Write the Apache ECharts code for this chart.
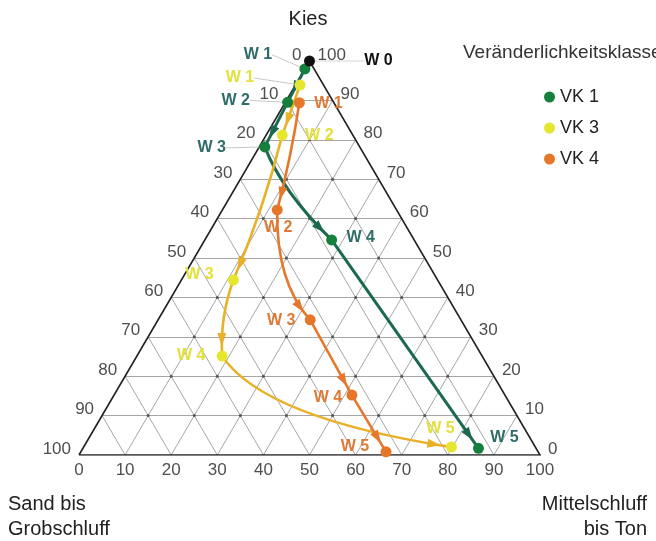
<!DOCTYPE html>
<html><head><meta charset="utf-8">
<script src="https://cdn.jsdelivr.net/npm/echarts@6/dist/echarts.min.js"></script>
<style>html,body{margin:0;padding:0;background:#fff}#c{width:656px;height:541px}</style>
</head><body><div id="c"></div>
<script>
// ---------- data ----------
const classNames = ['VK 1', 'VK 3', 'VK 4'];
const stepNames = ['W 1', 'W 2', 'W 3', 'W 4', 'W 5'];
const startName = 'W 0';
const startKies = 100;
const startFein = 0;
// Kies (%) and Mittelschluff bis Ton (%) for each step W1..W5 (Sand bis Grobschluff = rest)
const vk1Kies = [98.0, 89.5, 78.2, 54.6, 1.7];
const vk1Fein = [0.0, 0.5, 1.2, 27.5, 85.8];
const vk3Kies = [93.9, 81.2, 44.4, 25.1, 2.0];
const vk3Fein = [1.0, 3.5, 11.3, 18.5, 79.8];
const vk4Kies = [89.4, 62.2, 34.3, 15.2, 0.8];
const vk4Fein = [3.1, 11.9, 33.0, 51.6, 66.2];
const tickValues = [0, 10, 20, 30, 40, 50, 60, 70, 80, 90, 100];

// ---------- styles ----------
const FONT = '"Liberation Sans", Arial, sans-serif';
const dotColors = ['#15803b', '#e6e62e', '#e5772a'];
const lineColors = ['#1b6a4f', '#e8b128', '#e5782c'];
const labelColors = ['#2e6d68', '#e2e03a', '#de7a36'];
const lineWidths = [3, 2.6, 2.6];
// curve shape per segment: [position of control point along chord, perpendicular offset px]
const bends = [
  [[0.5, 0], [0.5, 0], [0.4, 12], [0.5, 0]],
  [[0.5, 0], [0.5, -6], [0.5, 8], [0.25, 42]],
  [[0.5, -3], [0.6, 22], [0.5, 0], [0.5, 0]]
];
// label offsets (px) from the point for each step
const labelOffsets = [
  [[-47, -14], [-52, -2], [-53, 1], [29, -2], [26, -11]],
  [[-60, -7], [37, 1], [-34, -5], [-31, -1], [-11, -19]],
  [[29, 1], [1, 18], [-29, 1], [-24, 2], [-31, -5]]
];
const leaderLines = [
  [true, true, true, false, false],
  [true, false, false, false, false],
  [false, false, false, false, false]
];

function tern(kies, fein) { return [fein + kies / 2, kies]; }

const kiesArr = [vk1Kies, vk3Kies, vk4Kies];
const feinArr = [vk1Fein, vk3Fein, vk4Fein];

// grid lines
const gridData = [];
tickValues.forEach(v => {
  if (v === 0 || v === 100) return;
  gridData.push({ coords: [tern(v, 0), tern(v, 100 - v)] });
  gridData.push({ coords: [tern(0, v), tern(100 - v, v)] });
  gridData.push({ coords: [tern(0, 100 - v), tern(100 - v, 0)] });
});
const nodeData = [];
tickValues.forEach(k => tickValues.forEach(f => {
  if (k > 0 && f > 0 && k + f < 100) nodeData.push(tern(k, f));
}));
const outline = [{ coords: [tern(0, 0), tern(0, 100), tern(100, 0), tern(0, 0)] }];

// segments for curves
const segData = [];
kiesArr.forEach((ks, ci) => {
  for (let i = 0; i < ks.length - 1; i++) {
    const a = tern(ks[i], feinArr[ci][i]);
    const b = tern(ks[i + 1], feinArr[ci][i + 1]);
    segData.push([a[0], a[1], b[0], b[1], ci, i]);
  }
});

function renderSeg(params, api) {
  const p0 = api.coord([api.value(0), api.value(1)]);
  const p2 = api.coord([api.value(2), api.value(3)]);
  const ci = api.value(4), si = api.value(5);
  const bend = bends[ci][si];
  const dx = p2[0] - p0[0], dy = p2[1] - p0[1];
  const L = Math.hypot(dx, dy);
  const nx = -dy / L, ny = dx / L;
  const c = [p0[0] + dx * bend[0] + nx * bend[1], p0[1] + dy * bend[0] + ny * bend[1]];
  const B = t => [
    (1 - t) * (1 - t) * p0[0] + 2 * (1 - t) * t * c[0] + t * t * p2[0],
    (1 - t) * (1 - t) * p0[1] + 2 * (1 - t) * t * c[1] + t * t * p2[1]
  ];
  const gap = 10;
  let t = 1;
  while (t > 0.3) {
    const q = B(t);
    if (Math.hypot(q[0] - p2[0], q[1] - p2[1]) >= gap) break;
    t -= 0.005;
  }
  const tip = B(t);
  let ux = 2 * (1 - t) * (c[0] - p0[0]) + 2 * t * (p2[0] - c[0]);
  let uy = 2 * (1 - t) * (c[1] - p0[1]) + 2 * t * (p2[1] - c[1]);
  const ul = Math.hypot(ux, uy); ux /= ul; uy /= ul;
  const len = 13, w = 4.5;
  const bx = tip[0] - ux * len, by = tip[1] - uy * len;
  const color = lineColors[ci];
  return {
    type: 'group',
    children: [
      { type: 'bezierCurve',
        shape: { x1: p0[0], y1: p0[1], x2: p2[0], y2: p2[1], cpx1: c[0], cpy1: c[1] },
        style: { stroke: color, lineWidth: lineWidths[ci], fill: null } },
      { type: 'polygon',
        shape: { points: [tip, [bx - uy * w, by + ux * w], [bx + uy * w, by - ux * w]] },
        style: { fill: color } }
    ]
  };
}

const series = [
  { type: 'lines', coordinateSystem: 'cartesian2d', silent: true, z: 1,
    lineStyle: { color: '#9c9c9c', width: 0.9, opacity: 1 }, data: gridData },
  { type: 'scatter', silent: true, z: 2, symbolSize: 3,
    itemStyle: { color: '#555', opacity: 1 }, data: nodeData },
  { type: 'lines', coordinateSystem: 'cartesian2d', polyline: true, silent: true, z: 3,
    lineStyle: { color: '#222', width: 1.6, opacity: 1 }, data: outline },
  { type: 'custom', z: 4, silent: true, renderItem: renderSeg, data: segData,
    encode: { x: [0, 2], y: [1, 3] } }
];

kiesArr.forEach((ks, ci) => {
  series.push({
    type: 'scatter', name: classNames[ci], z: 6, symbolSize: 11,
    itemStyle: { color: dotColors[ci], opacity: 1 },
    label: { show: true, position: 'inside', formatter: '{b}', color: labelColors[ci],
      fontFamily: FONT, fontSize: 16, fontWeight: 'bold' },
    labelLine: { show: false, lineStyle: { color: '#c8c8c8', width: 1 } },
    labelLayout: p => ({ dx: labelOffsets[ci][p.dataIndex][0], dy: labelOffsets[ci][p.dataIndex][1] }),
    data: ks.map((k, i) => ({
      name: stepNames[i], value: tern(k, feinArr[ci][i]),
      labelLine: { show: leaderLines[ci][i] }
    }))
  });
});

series.push({
  type: 'scatter', z: 7, symbolSize: 11, itemStyle: { color: '#111', opacity: 1 },
  label: { show: true, position: 'inside', formatter: '{b}', color: '#111',
    fontFamily: FONT, fontSize: 16, fontWeight: 'bold' },
  labelLine: { show: true, lineStyle: { color: '#d5d5d5', width: 1 } },
  labelLayout: { dx: 69, dy: 0 },
  data: [{ name: startName, value: tern(startKies, startFein) }]
});

// tick labels
const tickLabel = { show: true, color: '#222', fontFamily: FONT, fontSize: 17 };
series.push({
  type: 'scatter', silent: true, symbolSize: 0, z: 5,
  label: Object.assign({}, tickLabel, { position: 'right', distance: 8, offset: [0, -6], formatter: p => p.data.t }),
  data: tickValues.map(v => ({ value: tern(v, 100 - v), t: String(v) }))
});
series.push({
  type: 'scatter', silent: true, symbolSize: 0, z: 5,
  label: Object.assign({}, tickLabel, { position: 'left', distance: 8, offset: [0, -6], formatter: p => p.data.t }),
  data: tickValues.map(v => ({ value: tern(100 - v, 0), t: String(v) }))
});
series.push({
  type: 'scatter', silent: true, symbolSize: 0, z: 5,
  label: Object.assign({}, tickLabel, { position: 'bottom', distance: 7, formatter: p => p.data.t }),
  data: tickValues.map(v => ({ value: tern(0, v), t: String(v) }))
});

const option = {
  animation: false,
  backgroundColor: '#fff',
  grid: { left: 79, top: 61, width: 461, height: 394 },
  xAxis: { type: 'value', min: 0, max: 100, show: false },
  yAxis: { type: 'value', min: 0, max: 100, show: false },
  legend: {
    data: classNames, orient: 'vertical', left: 539, top: 83, itemGap: 13,
    icon: 'circle', itemWidth: 11, itemHeight: 11,
    textStyle: { color: '#222', fontFamily: FONT, fontSize: 18 }
  },
  graphic: [
    { type: 'text', x: 308, y: 9, style: { text: 'Kies', fill: '#222', font: '20px ' + FONT, align: 'center' } },
    { type: 'text', x: 463, y: 43, style: { text: 'Veränderlichkeitsklasse', fill: '#333', font: '19px ' + FONT } },
    { type: 'text', x: 8, y: 494, style: { text: 'Sand bis', fill: '#222', font: '20px ' + FONT } },
    { type: 'text', x: 8, y: 519, style: { text: 'Grobschluff', fill: '#222', font: '20px ' + FONT } },
    { type: 'text', x: 647, y: 494, style: { text: 'Mittelschluff', fill: '#222', font: '20px ' + FONT, align: 'right' } },
    { type: 'text', x: 647, y: 519, style: { text: 'bis Ton', fill: '#222', font: '20px ' + FONT, align: 'right' } }
  ],
  series: series
};
const chart = echarts.init(document.getElementById('c'));
chart.setOption(option);
</script>
</body></html>
